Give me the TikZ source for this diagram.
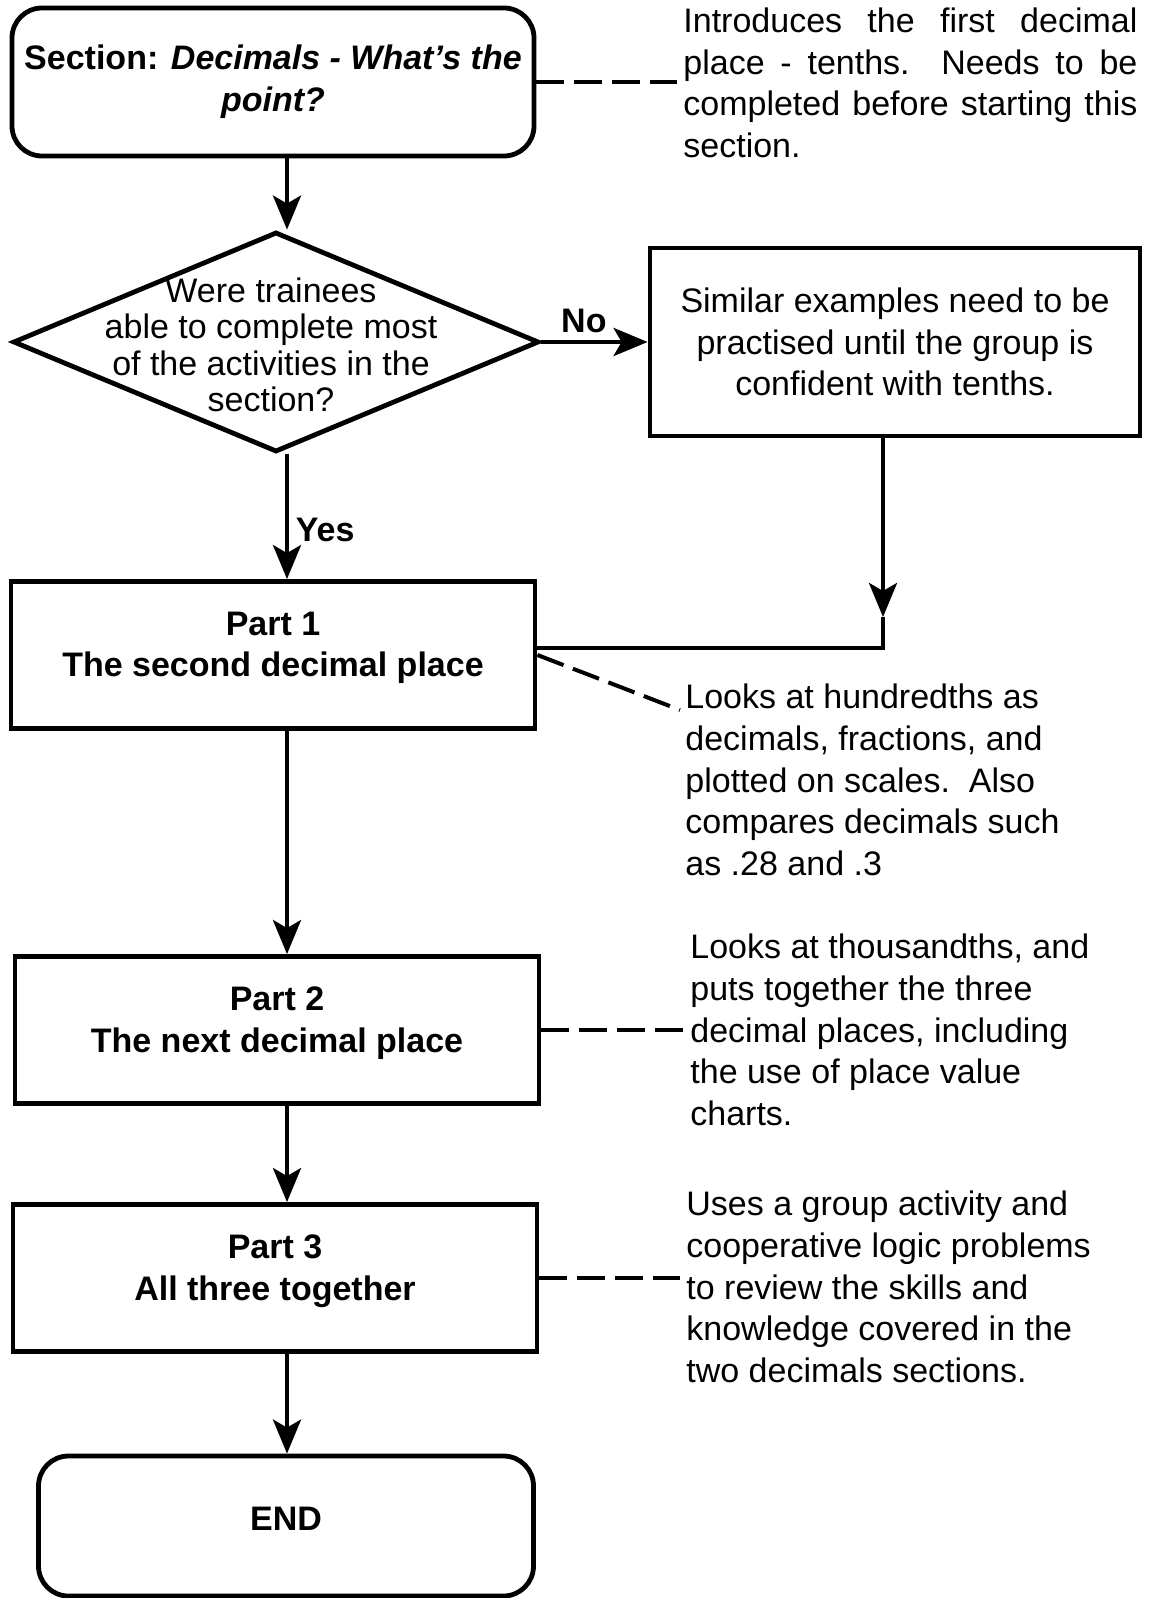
\documentclass[tikz,border=0pt]{standalone}
\usepackage{fontspec}
\setmainfont{Liberation Sans}
\usetikzlibrary{arrows.meta,positioning,shapes.geometric}
\colorlet{ink}{black}
\newcommand{\mainsize}{\fontsize{17}{20.8}\selectfont}
\hyphenpenalty=10000
\exhyphenpenalty=10000
\tikzset{
  basebox/.style={draw=ink,line width=2.4pt,align=center,font=\mainsize,inner sep=5pt},
  termbox/.style={basebox,rounded corners=15pt,font=\mainsize\bfseries},
  partbox/.style={basebox,minimum width=262pt,minimum height=73.5pt,text depth=10.5pt,font=\mainsize\bfseries},
  decision/.style={diamond,draw=ink,line width=2.4pt,minimum width=263pt,minimum height=110pt,inner sep=0pt},
  qtext/.style={align=center,inner sep=0pt,font=\fontsize{17}{18.2}\selectfont},
  note/.style={align=left,font=\mainsize,inner sep=3pt,anchor=west},
  tag/.style={font=\mainsize\bfseries},
  arrow/.style={-{Stealth[length=17pt,width=14pt,inset=4pt]},line width=2.2pt,draw=ink},
  link/.style={line width=2.2pt,draw=ink},
  notelink/.style={dash pattern=on 14pt off 5pt,line width=2pt,draw=ink}
}
\begin{document}
\begin{tikzpicture}[x=0.5pt,y=-0.5pt]
  \useasboundingbox (0,0) rectangle (1150,1598);
  \coordinate (trunk) at (287,0);
  \coordinate (tip) at (883,617);
  \coordinate (turn) at (883,648);
  \coordinate (n1tip) at (680,710);
  % main column
  \node[termbox,minimum width=261pt,minimum height=74pt] (start) at (273,82)
    {Section: \textit{Decimals - What's the}\\\textit{point?}};
  \node[decision] (q) at (276,342) {};
  \node[qtext] (qlabel) at (271,345)
    {Were trainees\\able to complete most\\of the activities in the\\section?};
  \node[basebox,minimum width=245pt,minimum height=94pt] (fix) at (895,342)
    {Similar examples need to be\\practised until the group is\\confident with tenths.};
  \node[partbox] (p1) at (273,655) {Part 1\\The second decimal place};
  \node[partbox] (p2) at (277,1030) {Part 2\\The next decimal place};
  \node[partbox] (p3) at (275,1278) {Part 3\\All three together};
  \node[termbox,minimum width=247.5pt,minimum height=70pt,text depth=7pt] (stop) at (286,1526) {END};
  % notes on the right
  \node[note,text width=227pt,align=justify] (n0) at (677,83)
    {Introduces the first decimal\linebreak place - tenths.\ \ Needs to be\linebreak completed before starting this\linebreak section.};
  \node[note] (n1) at (679,780)
    {Looks at hundredths as\\decimals, fractions, and\\plotted on scales.\ \ Also\\compares decimals such\\as .28 and .3};
  \node[note] (n2) at (684,1030)
    {Looks at thousandths, and\\puts together the three\\decimal places, including\\the use of place value\\charts.};
  \node[note] (n3) at (680,1287)
    {Uses a group activity and\\cooperative logic problems\\to review the skills and\\knowledge covered in the\\two decimals sections.};
  % flow
  \draw[arrow] (start.south -| trunk) -- (q.north -| trunk);
  \draw[arrow] (q.east) -- (q.east -| fix.west) node[tag,pos=0.4,above=0pt] (no) {No};
  \draw[arrow] (q.south -| trunk) -- (p1.north -| trunk) node[tag,pos=0.61,right=0pt] (yes) {Yes};
  \draw[arrow] (fix.south -| turn) -- (tip);
  \draw[link] (tip) -- (turn) -- (turn -| p1.east);
  \draw[arrow] (p1.south -| trunk) -- (p2.north -| trunk);
  \draw[arrow] (p2.south -| trunk) -- (p3.north -| trunk);
  \draw[arrow] (p3.south -| trunk) -- (stop.north -| trunk);
  % dashed note links
  \draw[notelink] (start.east) -- (start.east -| n0.west);
  \draw[notelink] (p1.east) -- (n1tip);
  \draw[notelink] (p2.east) -- (p2.east -| n2.west);
  \draw[notelink] (p3.east) -- (p3.east -| n3.west);
\end{tikzpicture}
\end{document}
